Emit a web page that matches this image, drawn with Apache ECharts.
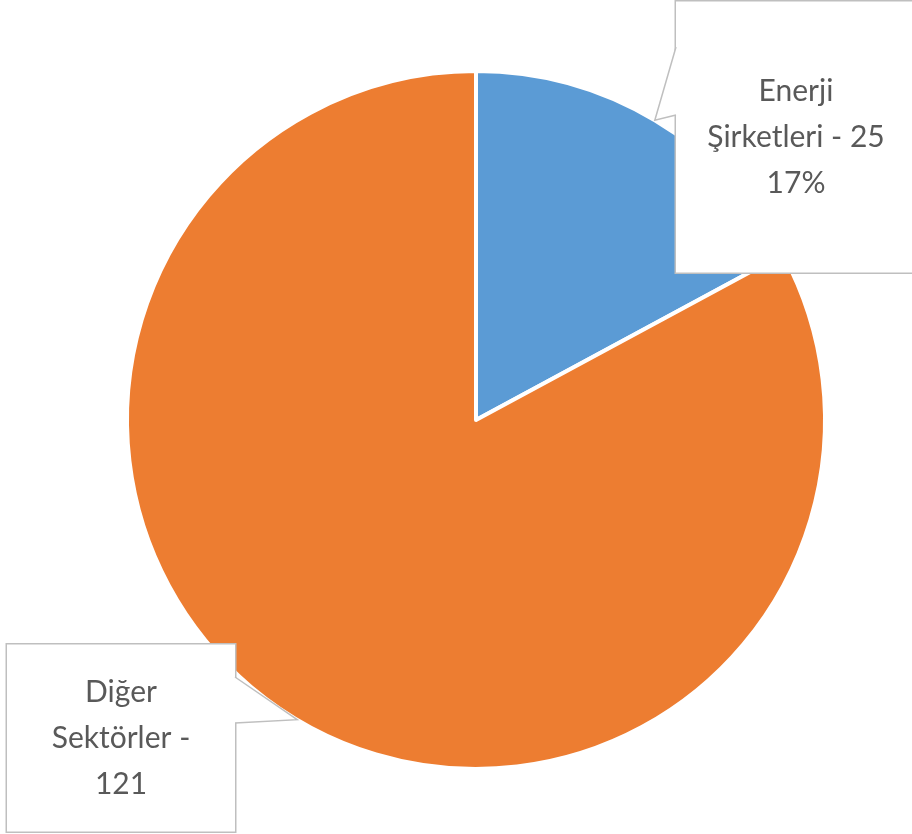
<!DOCTYPE html>
<html>
<head>
<meta charset="utf-8">
<script src="https://cdn.jsdelivr.net/npm/echarts@6/dist/echarts.min.js"></script>
<style>
  html, body { margin: 0; padding: 0; background: #fff; }
  #chart { width: 912px; height: 834px; }
</style>
</head>
<body>
<div id="chart"></div>
<script>
// slice data
const categories = ['Enerji\nŞirketleri', 'Diğer\nSektörler'];
const values = [25, 121];
const colors = ['#5B9BD5', '#ED7D31'];
// which callouts also show the percentage (second one is cut off in the original)
const showPercent = [true, false];

// callout boxes: centre, size, pointer base on the box side (pixels)
const boxes = [
  { x: 796, y: 137, w: 240, h: 271, shift: 6, side: 'left', base: [47, 115] },
  { x: 121, y: 738, w: 228, h: 187, shift: 3, side: 'right', base: [677, 723] }
];

const LINE_H = 46;
const BORDER = '#BFBFBF';

const chart = echarts.init(document.getElementById('chart'), null, { renderer: 'canvas' });

const seriesData = categories.map((name, i) => {
  const b = boxes[i];
  const padV = (b.h - 3 * LINE_H) / 2;
  return {
    name: name,
    value: values[i],
    itemStyle: { color: colors[i] },
    label: {
      width: b.w,
      padding: [padV + b.shift, 0, padV - b.shift, 0]
    }
  };
});

chart.setOption({
  animation: false,
  series: [{
    type: 'pie',
    center: [476, 420],
    radius: 349,
    startAngle: 90,
    clockwise: true,
    percentPrecision: 0,
    data: seriesData,
    itemStyle: { borderColor: '#fff', borderWidth: 4 },
    label: {
      show: true,
      position: 'outside',
      formatter: function (p) {
        const i = p.dataIndex;
        return showPercent[i]
          ? p.name + ' - ' + p.value + '\n' + p.percent + '%'
          : p.name + ' -\n' + p.value;
      },
      fontFamily: 'Lato, "Open Sans", sans-serif',
      fontSize: 30,
      lineHeight: LINE_H,
      color: '#595959',
      align: 'center',
      backgroundColor: '#fff',
      borderColor: BORDER,
      borderWidth: 1.5
    },
    labelLine: { show: false },
    labelLayout: function (params) {
      const b = boxes[params.dataIndex];
      return { x: b.x, y: b.y, align: 'center', verticalAlign: 'middle' };
    }
  }]
});

// callout pointers: tip at the outer edge of each slice's middle angle,
// taken from the pie layout that ECharts computed
const pieData = chart.getModel().getSeriesByIndex(0).getData();
const pointers = [];
boxes.forEach((b, i) => {
  const lay = pieData.getItemLayout(i);
  const mid = (lay.startAngle + lay.endAngle) / 2;
  const tip = [lay.cx + lay.r * Math.cos(mid), lay.cy + lay.r * Math.sin(mid)];
  const edge = b.side === 'left' ? b.x - b.w / 2 : b.x + b.w / 2;
  const inset = b.side === 'left' ? 2 : -2;
  pointers.push({
    type: 'polygon',
    z: 100,
    shape: { points: [[edge + inset, b.base[0]], [edge, b.base[0]], tip, [edge, b.base[1]], [edge + inset, b.base[1]]] },
    style: { fill: '#fff', stroke: null }
  });
  pointers.push({
    type: 'polyline',
    z: 101,
    shape: { points: [[edge, b.base[0]], tip, [edge, b.base[1]]] },
    style: { stroke: BORDER, lineWidth: 1.5, fill: null }
  });
});
chart.setOption({ graphic: pointers });
</script>
</body>
</html>
